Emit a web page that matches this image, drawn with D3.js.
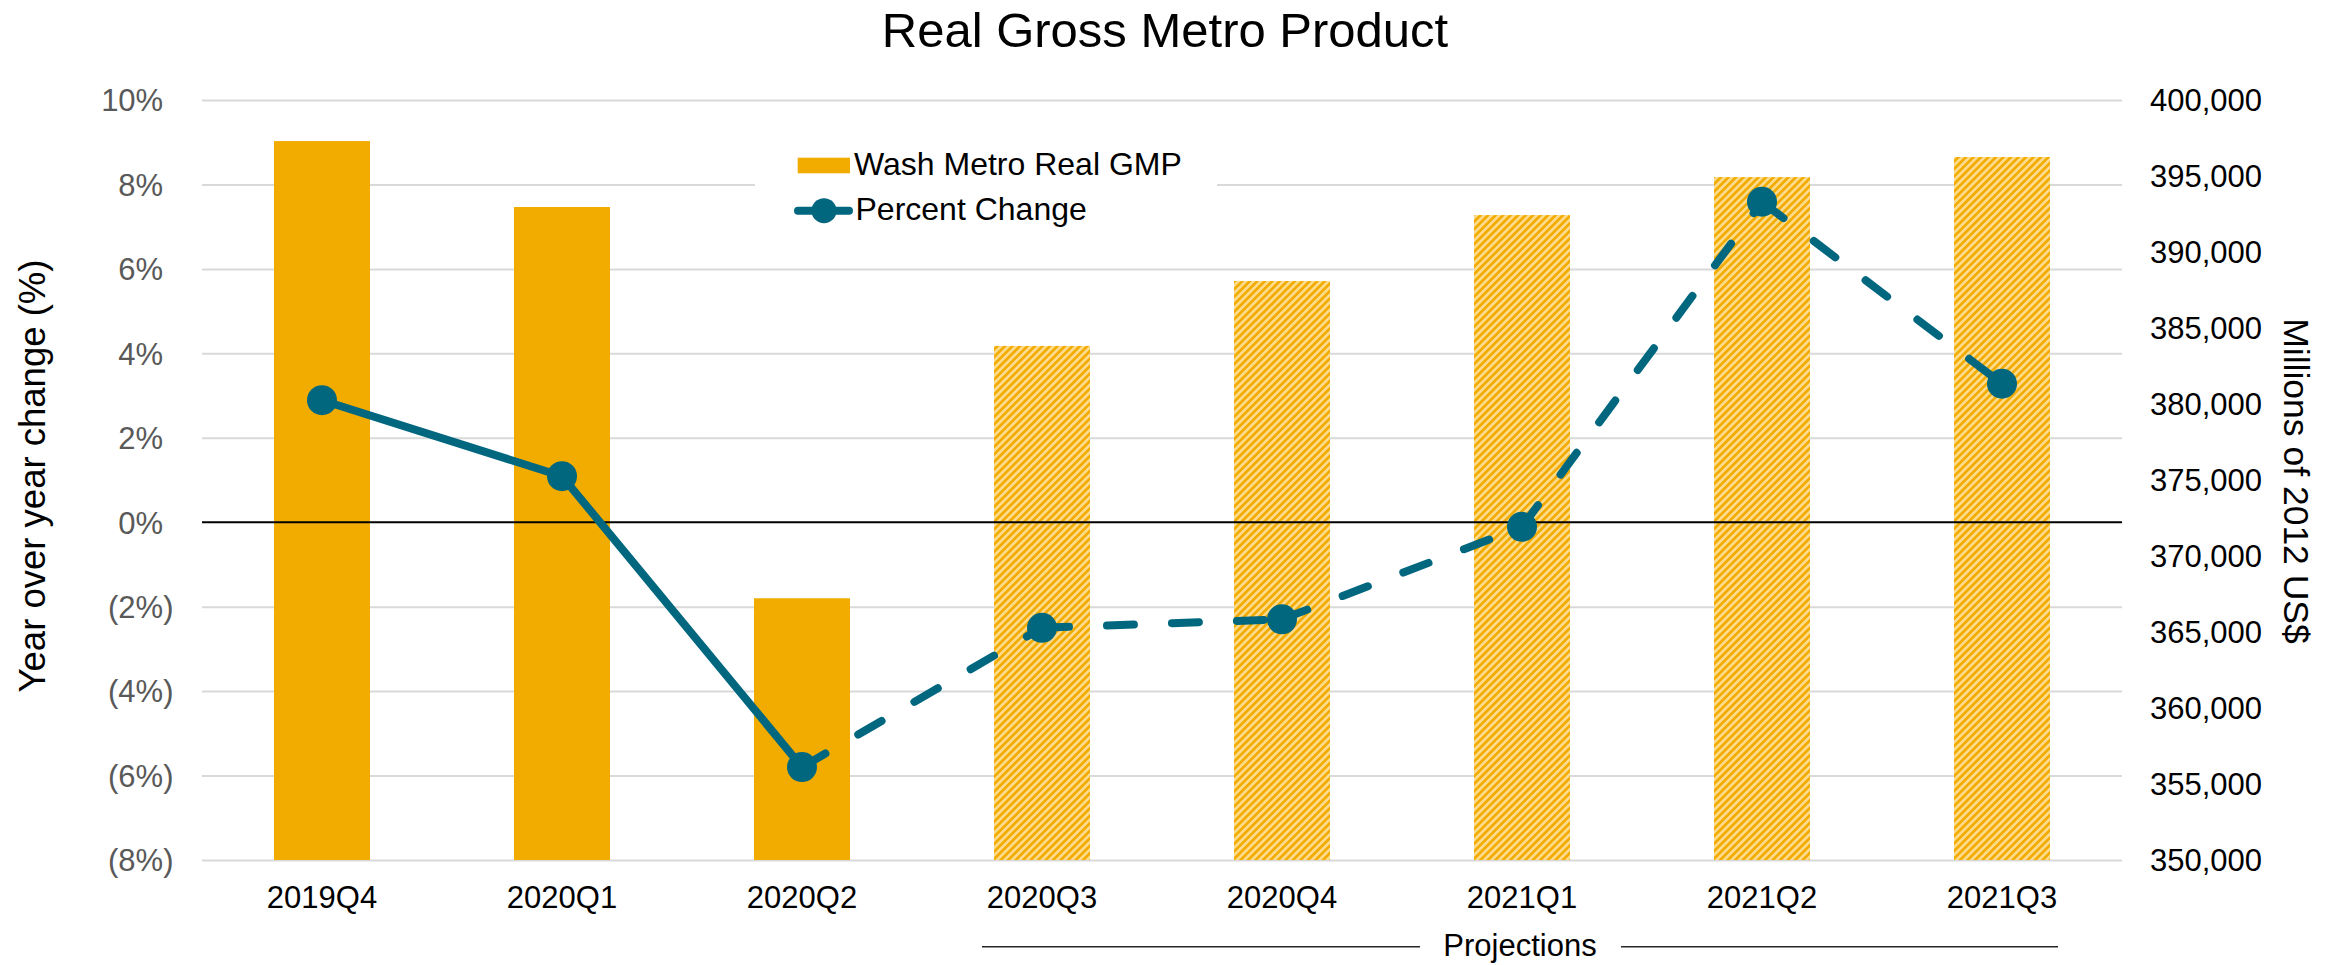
<!DOCTYPE html>
<html>
<head>
<meta charset="utf-8">
<script src="https://cdn.jsdelivr.net/npm/d3@7"></script>
<style>
  html, body { margin: 0; padding: 0; background: #ffffff; }
  svg { display: block; font-family: "Liberation Sans", Arial, sans-serif; }
</style>
</head>
<body>
<div id="chart"></div>
<script>
// ---------------- DATA ----------------
const categories = ["2019Q4", "2020Q1", "2020Q2", "2020Q3", "2020Q4", "2021Q1", "2021Q2", "2021Q3"];
const gmpValues = [397300, 392960, 367220, 383820, 388090, 392430, 394930, 396250];
const pctChange = [2.89, 1.09, -5.80, -2.50, -2.30, -0.11, 7.59, 3.28];
const isProjection = [false, false, false, true, true, true, true, true];
const leftTicks = [-8, -6, -4, -2, 0, 2, 4, 6, 8, 10];
const rightTicks = [350000, 355000, 360000, 365000, 370000, 375000, 380000, 385000, 390000, 395000, 400000];
const seriesNames = ["Wash Metro Real GMP", "Percent Change"];
const titleText = "Real Gross Metro Product";
const leftTitle = "Year over year change (%)";
const rightTitle = "Millions of 2012 US$";
const projectionLabel = "Projections";

// ---------------- LAYOUT ----------------
const W = 2341, H = 965;
const plot = { left: 202, right: 2122, top: 100, bottom: 860 };
const ORANGE = "#F2AC00", LIGHT = "#FEDB8C", TEAL = "#00677F";
const FONT = 31;

const svg = d3.select("#chart").append("svg").attr("width", W).attr("height", H);

const defs = svg.append("defs");
const P = 5.3;
const pat = defs.append("pattern")
  .attr("id", "hatch").attr("patternUnits", "userSpaceOnUse")
  .attr("width", P).attr("height", P)
  .attr("patternTransform", "rotate(45)");
pat.append("rect").attr("width", P).attr("height", P).attr("fill", LIGHT);
pat.append("rect").attr("width", P / 2).attr("height", P).attr("fill", ORANGE);

const x = d3.scaleBand().domain(categories).range([plot.left, plot.right])
  .paddingInner(0.6).paddingOuter(0.3);
const yL = d3.scaleLinear().domain([-8, 10]).range([plot.bottom, plot.top]);
const yR = d3.scaleLinear().domain([350000, 400000]).range([plot.bottom, plot.top]);

// gridlines
const grid = svg.append("g").attr("transform", `translate(${plot.left},0)`)
  .call(d3.axisLeft(yL).tickValues(leftTicks.filter(d => d !== 0)).tickSize(-(plot.right - plot.left)).tickFormat(""));
grid.select(".domain").remove();
grid.selectAll("line").attr("stroke", "#d9d9d9").attr("stroke-width", 2);

// legend background (covers gridlines behind it)
svg.append("rect").attr("x", 755).attr("y", 132).attr("width", 462).attr("height", 106).attr("fill", "#fff");

// bars
svg.append("g").selectAll("rect").data(categories).join("rect")
  .attr("x", d => x(d))
  .attr("width", x.bandwidth())
  .attr("y", (d, i) => yR(gmpValues[i]))
  .attr("height", (d, i) => yR(350000) - yR(gmpValues[i]))
  .attr("fill", (d, i) => isProjection[i] ? "url(#hatch)" : ORANGE);

// zero line
svg.append("line").attr("x1", plot.left).attr("x2", plot.right)
  .attr("y1", yL(0)).attr("y2", yL(0)).attr("stroke", "#000").attr("stroke-width", 2);

// left axis
const axL = svg.append("g").attr("transform", `translate(${plot.left - 28.5},0)`)
  .call(d3.axisLeft(yL).tickValues(leftTicks).tickSize(0).tickPadding(0)
    .tickFormat(d => d < 0 ? `(${-d}%)` : `${d}%`));
axL.select(".domain").remove();
axL.selectAll("text").attr("fill", "#595959").attr("font-size", FONT)
  .attr("font-family", "Liberation Sans, Arial, sans-serif").attr("dy", "0.35em")
  .each(function(d) {
    if (d >= 0) d3.select(this).append("tspan").attr("fill-opacity", 0).text(")");
  });

// right axis
const axR = svg.append("g").attr("transform", `translate(2150,0)`)
  .call(d3.axisRight(yR).tickValues(rightTicks).tickSize(0).tickPadding(0)
    .tickFormat(d3.format(",")));
axR.select(".domain").remove();
axR.selectAll("text").attr("fill", "#000").attr("font-size", FONT)
  .attr("font-family", "Liberation Sans, Arial, sans-serif").attr("dy", "0.35em");

// x axis labels
const axX = svg.append("g").attr("transform", `translate(0,${plot.bottom})`)
  .call(d3.axisBottom(x).tickSize(0).tickPadding(0));
axX.select(".domain").remove();
axX.selectAll("text").attr("fill", "#000").attr("font-size", FONT)
  .attr("font-family", "Liberation Sans, Arial, sans-serif").attr("dy", null).attr("y", 48);

// percent change line: separate segments so the dash pattern restarts at each point
const cx = i => x(categories[i]) + x.bandwidth() / 2;
const lineGen = d3.line().x(d => cx(d)).y(d => yL(pctChange[d]));
const segs = d3.range(categories.length - 1);
svg.append("g").selectAll("path").data(segs).join("path")
  .attr("d", i => lineGen([i, i + 1]))
  .attr("fill", "none").attr("stroke", TEAL).attr("stroke-width", 8)
  .attr("stroke-linecap", "round")
  .attr("stroke-dasharray", i => isProjection[i + 1] ? "27,38" : null);
svg.append("g").selectAll("circle").data(categories).join("circle")
  .attr("cx", (d, i) => cx(i)).attr("cy", (d, i) => yL(pctChange[i]))
  .attr("r", 15).attr("fill", TEAL);

// title
svg.append("text").attr("x", 1165).attr("y", 46.5).attr("text-anchor", "middle")
  .attr("font-size", 49).attr("fill", "#000").text(titleText);

// axis titles
svg.append("text").attr("transform", "translate(45,476) rotate(-90)")
  .attr("text-anchor", "middle").attr("font-size", 36.5).attr("fill", "#000").text(leftTitle);
svg.append("text").attr("transform", "translate(2284,481) rotate(90)")
  .attr("text-anchor", "middle").attr("font-size", 35.5).attr("fill", "#000").text(rightTitle);

// legend
const lg = svg.append("g");
lg.append("rect").attr("x", 797.7).attr("y", 157.7).attr("width", 52.3).attr("height", 15.6).attr("fill", ORANGE);
lg.append("text").attr("x", 854).attr("y", 175).attr("font-size", 32).attr("fill", "#000").text(seriesNames[0]);
lg.append("line").attr("x1", 798).attr("x2", 849).attr("y1", 210.7).attr("y2", 210.7)
  .attr("stroke", TEAL).attr("stroke-width", 8).attr("stroke-linecap", "round");
lg.append("circle").attr("cx", 824).attr("cy", 210.7).attr("r", 12.5).attr("fill", TEAL);
lg.append("text").attr("x", 855.5).attr("y", 220).attr("font-size", 32).attr("fill", "#000").text(seriesNames[1]);

// projections annotation
const pStart = cx(3) - 60, pEnd = cx(7) + 56, pMid = 1520;
const ann = svg.append("g");
ann.append("line").attr("x1", pStart).attr("x2", pMid - 100).attr("y1", 946.7).attr("y2", 946.7)
  .attr("stroke", "#262626").attr("stroke-width", 1.5);
ann.append("line").attr("x1", pMid + 101).attr("x2", pEnd).attr("y1", 946.7).attr("y2", 946.7)
  .attr("stroke", "#262626").attr("stroke-width", 1.5);
ann.append("text").attr("x", pMid).attr("y", 956).attr("text-anchor", "middle")
  .attr("font-size", FONT).attr("fill", "#000").text(projectionLabel);
</script>
</body>
</html>
